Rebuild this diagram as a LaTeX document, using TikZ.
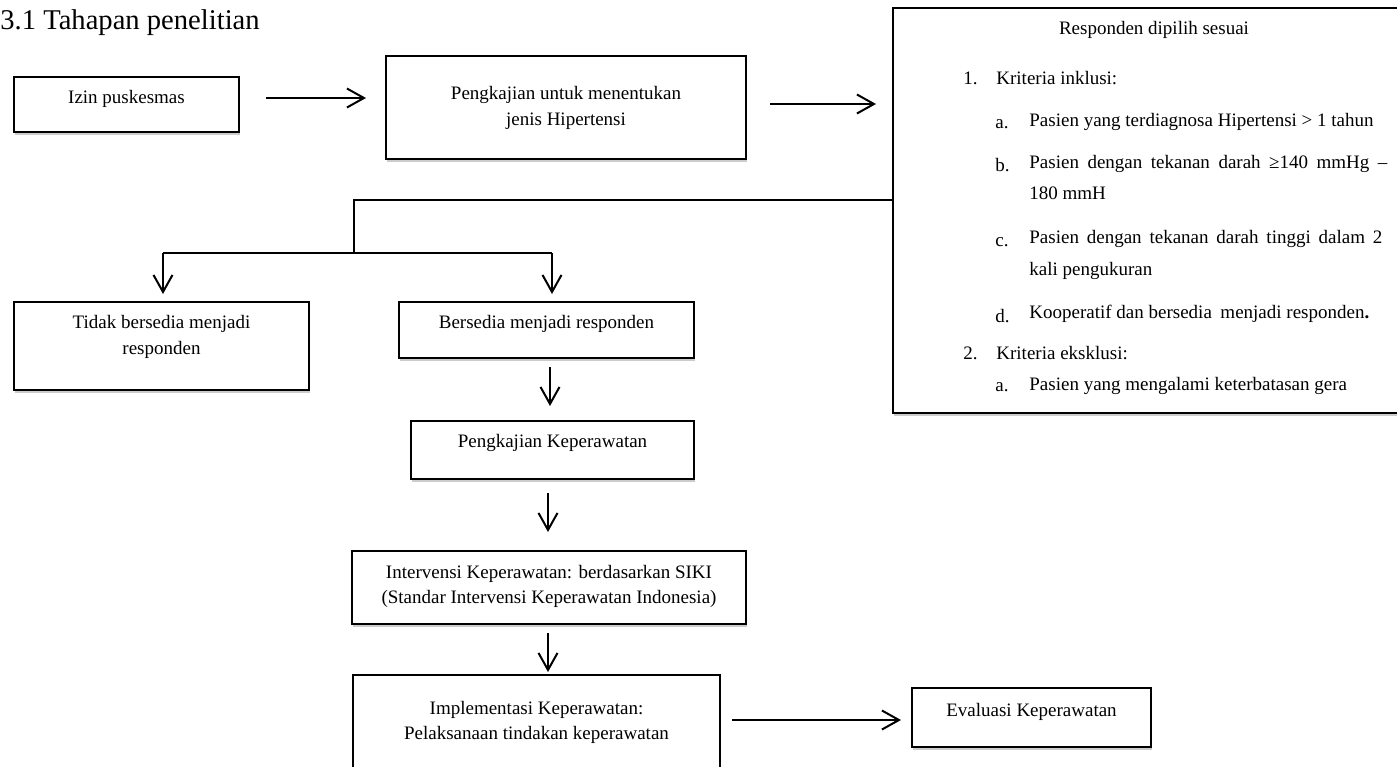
\documentclass[tikz,border=0pt]{standalone}
\usepackage{fontspec}
\setmainfont{Liberation Serif}
\usetikzlibrary{arrows.meta,calc,shadows}
\tikzset{
  box/.style={draw, line width=1pt, fill=white, inner sep=0pt,
    drop shadow={shadow xshift=0.6pt, shadow yshift=-1.4pt, fill=black, opacity=0.2}},
  txt/.style={inner sep=0pt, font=\fontsize{9.5pt}{11pt}\selectfont},
  arr/.style={line width=1pt, -{Straight Barb[length=8.5pt,width=9.5pt,line width=1pt]}},
  ln/.style={line width=0.8pt},
}
\begin{document}
\begin{tikzpicture}[x=0.5pt,y=-0.5pt]
\useasboundingbox (0,0) rectangle (1397,766);
\clip (0,0) rectangle (1397,766);

% title
\node[inner sep=0pt, anchor=base west, font=\fontsize{14.3pt}{16pt}\selectfont] (title) at (0,29) {3.1 Tahapan penelitian};

% boxes
\node[box, minimum width=225*0.5pt, minimum height=55*0.5pt] (izin) at (126.5,104.5) {};
\node[box, minimum width=360*0.5pt, minimum height=103*0.5pt] (pengk) at (566,107.5) {};
\node[box, minimum width=527*0.5pt, minimum height=405*0.5pt] (krit) at (1156.5,210.5) {};
\node[box, minimum width=295*0.5pt, minimum height=88*0.5pt] (tidak) at (161.5,346) {};
\node[box, minimum width=295*0.5pt, minimum height=56*0.5pt] (bersedia) at (546.5,330) {};
\node[box, minimum width=283*0.5pt, minimum height=58*0.5pt] (pkep) at (552.5,450) {};
\node[box, minimum width=394*0.5pt, minimum height=73*0.5pt] (interv) at (549,587.5) {};
\node[box, minimum width=367*0.5pt, minimum height=115*0.5pt] (impl) at (536.5,732.5) {};
\node[box, minimum width=239*0.5pt, minimum height=59*0.5pt] (eval) at (1031.5,717.5) {};

% box texts
\node[txt, anchor=base] (tizin) at (126.5,103) {Izin puskesmas};
\node[txt, anchor=base] (tpengk1) at (566,99) {Pengkajian untuk menentukan};
\node[txt, anchor=base] (tpengk2) at (566,125) {jenis Hipertensi};
\node[txt, anchor=base] (ttidak1) at (161.5,328) {Tidak bersedia menjadi};
\node[txt, anchor=base] (ttidak2) at (161.5,354) {responden};
\node[txt, anchor=base] (tbers) at (546.5,328) {Bersedia menjadi responden};
\node[txt, anchor=base] (tpkep) at (552.5,447) {Pengkajian Keperawatan};
\node[txt, anchor=base] (tint1) at (549,578) {Intervensi Keperawatan: berdasarkan SIKI};
\node[txt, anchor=base] (tint2) at (549,603) {(Standar Intervensi Keperawatan Indonesia)};
\node[txt, anchor=base] (timp1) at (536.5,714) {Implementasi Keperawatan:};
\node[txt, anchor=base] (timp2) at (536.5,739) {Pelaksanaan tindakan keperawatan};
\node[txt, anchor=base] (teval) at (1031.5,716) {Evaluasi Keperawatan};

% criteria box texts
\node[txt, anchor=base] (k0) at (1154,34) {Responden dipilih sesuai};
\node[txt, anchor=base west] (n1) at (963,84) {1.};
\node[txt, anchor=base west] (k1) at (996,84) {Kriteria inklusi:};
\node[txt, anchor=base west] (la) at (995,128) {a.};
\node[txt, anchor=base west] (ia) at (1029,126) {Pasien yang terdiagnosa Hipertensi > 1 tahun};
\node[txt, anchor=base west] (lb) at (995,171) {b.};
\node[txt, anchor=base west] (ib1) at (1029,168) {\makebox[179pt][s]{Pasien dengan tekanan darah ≥140 mmHg \textendash}};
\node[txt, anchor=base west] (ib2) at (1029,199) {180 mmH};
\node[txt, anchor=base west] (lc) at (995,246) {c.};
\node[txt, anchor=base west] (ic1) at (1029,243) {\makebox[176.5pt][s]{Pasien dengan tekanan darah tinggi dalam 2}};
\node[txt, anchor=base west] (ic2) at (1029,275) {kali pengukuran};
\node[txt, anchor=base west] (ld) at (995,322) {d.};
\node[txt, anchor=base west] (id) at (1029,318) {Kooperatif dan bersedia\hspace{0.45em}menjadi responden\textbf{.}};
\node[txt, anchor=base west] (n2) at (963,359) {2.};
\node[txt, anchor=base west] (k2) at (996,359) {Kriteria eksklusi:};
\node[txt, anchor=base west] (le) at (995,391) {a.};
\node[txt, anchor=base west] (ie) at (1029,390) {Pasien yang mengalami keterbatasan gera};

% connectors
\draw[arr] ($(izin.east)+(26,-6.5)$) -- ($(pengk.west)+(-19,-9.5)$);
\draw[arr] ($(pengk.east)+(23,-3.5)$) -- ($(krit.west)+(-16,-106.5)$);

\coordinate (b1) at (354,200);
\coordinate (b2) at (354,253);
\coordinate (bl) at (163,253);
\coordinate (br) at (552,253);
\draw[ln] (b1 -| krit.west) -- (b1) -- (b2);
\draw[line width=1pt] (bl) -- (br);
\draw[arr] (bl) -- ($(tidak.north)+(1.5,-7)$);
\draw[arr] (br) -- ($(bersedia.north)+(5.5,-7)$);

\draw[arr] ($(bersedia.south)+(3.5,8)$) -- ($(pkep.north)+(-2.5,-14)$);
\draw[arr] ($(pkep.south)+(-4.5,13)$) -- ($(interv.north)+(-1,-18)$);
\draw[arr] ($(interv.south)+(-1,8)$) -- ($(impl.north)+(11.5,-2)$);
\draw[arr] ($(impl.east)+(11,-12.5)$) -- ($(eval.west)+(-10,2.5)$);
\end{tikzpicture}
\end{document}
